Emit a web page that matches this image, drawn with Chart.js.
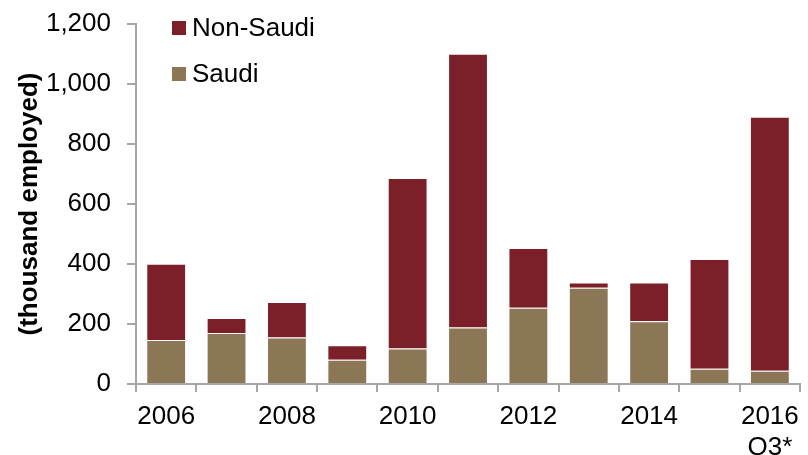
<!DOCTYPE html>
<html>
<head>
<meta charset="utf-8">
<script src="https://cdn.jsdelivr.net/npm/chart.js@4"></script>
<style>
  html, body { margin: 0; padding: 0; background: #fff; }
  #wrap { width: 808px; height: 455px; }
</style>
</head>
<body>
<div id="wrap"><canvas id="chart" width="808" height="455"></canvas></div>
<script>
const years = ["2006", "2007", "2008", "2009", "2010", "2011", "2012", "2013", "2014", "2015", "2016"];
const tickLabels = ["2006", "", "2008", "", "2010", "", "2012", "", "2014", "", ["2016", "Q3*"]];
const saudi = [147, 170, 155, 81, 118, 188, 254, 321, 209, 51, 44];
const nonSaudi = [254, 50, 118, 48, 569, 913, 199, 17, 129, 366, 847];

const FONT = "'Liberation Sans', Arial, sans-serif";
const axisGray = "#a6a6a6";

// vertical legend drawn inside the plot, top-left
const sideLegend = {
    id: "sideLegend",
    afterDraw(chart) {
        const ctx = chart.ctx;
        const items = [chart.data.datasets[1], chart.data.datasets[0]];
        ctx.save();
        ctx.font = "26px " + FONT;
        ctx.textBaseline = "middle";
        items.forEach((ds, i) => {
            const cy = 28 + i * 46;
            ctx.fillStyle = ds.backgroundColor;
            ctx.fillRect(172, cy - 7, 14, 14);
            ctx.fillStyle = "#000";
            ctx.fillText(ds.label, 192, cy + 1);
        });
        ctx.restore();
    }
};

new Chart(document.getElementById("chart"), {
    type: "bar",
    data: {
        labels: years,
        datasets: [
            {
                label: "Saudi",
                data: saudi,
                backgroundColor: "#8b7656",
                borderColor: "rgba(255,255,255,0.45)",
                borderWidth: 1,
                barPercentage: 0.66,
                categoryPercentage: 1.0
            },
            {
                label: "Non-Saudi",
                data: nonSaudi,
                backgroundColor: "#7b2029",
                borderColor: "rgba(255,255,255,0.45)",
                borderWidth: 1,
                barPercentage: 0.66,
                categoryPercentage: 1.0
            }
        ]
    },
    options: {
        responsive: false,
        animation: false,
        layout: { padding: { top: 24, right: 5, left: 0, bottom: 0 } },
        plugins: {
            legend: { display: false },
            tooltip: { enabled: false }
        },
        scales: {
            x: {
                stacked: true,
                grid: {
                    offset: true,
                    drawOnChartArea: false,
                    drawTicks: true,
                    tickLength: 8,
                    color: axisGray,
                    lineWidth: 2
                },
                border: { display: true, color: axisGray, width: 2 },
                ticks: {
                    autoSkip: false,
                    maxRotation: 0,
                    padding: 9,
                    color: "#000",
                    font: { family: FONT, size: 26 },
                    callback: (v, i) => tickLabels[i]
                },
                afterFit: (s) => { s.height = 71; }
            },
            y: {
                stacked: true,
                min: 0,
                max: 1200,
                grid: {
                    drawOnChartArea: false,
                    drawTicks: true,
                    tickLength: 9,
                    color: axisGray,
                    lineWidth: 2
                },
                border: { display: true, color: axisGray, width: 2 },
                ticks: {
                    stepSize: 200,
                    padding: 16,
                    color: "#000",
                    font: { family: FONT, size: 26 },
                    callback: (v) => v.toLocaleString("en-US")
                },
                title: {
                    display: true,
                    text: "(thousand employed)",
                    color: "#000",
                    font: { family: FONT, size: 26, weight: "bold" },
                    padding: { top: 14, bottom: 0 }
                },
                afterFit: (s) => {
                    s.width = 136;
                    s.paddingTop = 0;
                    s.paddingBottom = 0;
                }
            }
        }
    },
    plugins: [sideLegend]
});
</script>
</body>
</html>
